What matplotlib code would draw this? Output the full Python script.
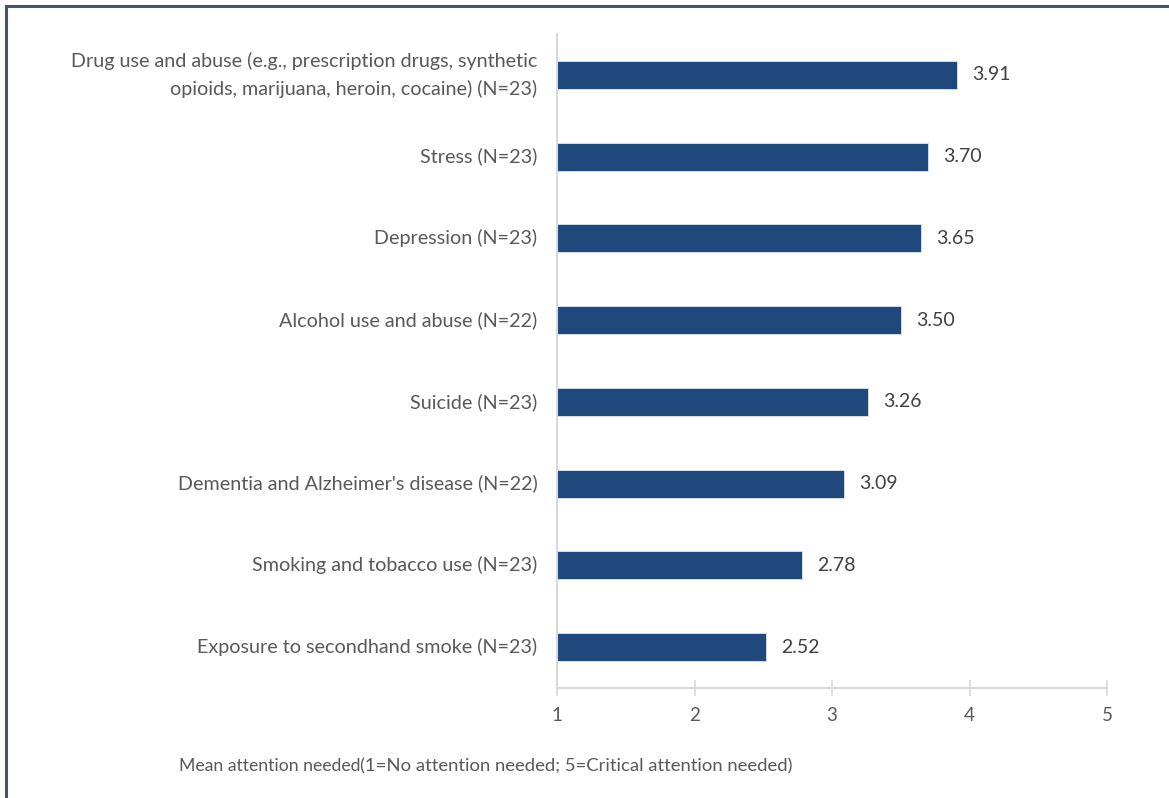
import matplotlib.pyplot as plt
from matplotlib.patches import Rectangle

categories = [
    "Drug use and abuse (e.g., prescription drugs, synthetic\nopioids, marijuana, heroin, cocaine) (N=23)",
    "Stress (N=23)",
    "Depression (N=23)",
    "Alcohol use and abuse (N=22)",
    "Suicide (N=23)",
    "Dementia and Alzheimer's disease (N=22)",
    "Smoking and tobacco use (N=23)",
    "Exposure to secondhand smoke (N=23)",
]
means = [3.91, 3.70, 3.65, 3.50, 3.26, 3.09, 2.78, 2.52]
x_ticks = [1, 2, 3, 4, 5]

bar_color = "#1f497d"
text_color = "#595959"
axis_color = "#d9d9d9"

plt.rcParams['font.family'] = ['Lato', 'DejaVu Sans']

fig = plt.figure(figsize=(11.69, 7.98), dpi=100)
ax = fig.add_axes([557 / 1169, 1 - 688 / 798, 550 / 1169, 654 / 798])

pos = list(range(len(categories)))
widths = [m - 1 for m in means]
ax.barh(pos, widths, left=1, height=0.34, color=bar_color,
        edgecolor="#dfe6ee", linewidth=0.6)
for p, m in zip(pos, means):
    ax.text(m + 0.11, p, f"{m:.2f}", va='center', ha='left',
            fontsize=14, color="#404040")

ax.set_xlim(1, 5)
ax.set_ylim(len(categories) - 0.5, -0.5)
ax.set_xticks(x_ticks)
ax.set_xticklabels([str(t) for t in x_ticks])
ax.set_yticks(pos)
ax.set_yticklabels(categories, fontsize=14.2, color=text_color, linespacing=1.7)
for lbl in ax.get_yticklabels():
    lbl.set_va('center')
ax.tick_params(axis='y', length=0, pad=14)
ax.tick_params(axis='x', direction='inout', length=12, width=1.2,
               color=axis_color, labelcolor=text_color, labelsize=13.5, pad=8)

for side in ['top', 'right']:
    ax.spines[side].set_visible(False)
ax.spines['left'].set_color(axis_color)
ax.spines['left'].set_linewidth(1.5)
ax.spines['bottom'].set_color(axis_color)
ax.spines['bottom'].set_linewidth(1.5)

t1 = fig.text(179 / 1169, 1 - 771 / 798, "Mean attention needed",
              fontsize=12.7, color=text_color, va='baseline')
ax.annotate("(1=No attention needed; 5=Critical attention needed)",
            xy=(1, 0), xycoords=t1, va='bottom', ha='left',
            fontsize=13.3, color=text_color, annotation_clip=False)

# outer frame (only left and top visible)
fig.patches.append(Rectangle((6 / 1169, -0.05), 1.2, 1 - 6 / 798 + 0.05,
                             transform=fig.transFigure, fill=False,
                             edgecolor="#44546a", linewidth=2.2))

fig.savefig("out.png", dpi=100)
